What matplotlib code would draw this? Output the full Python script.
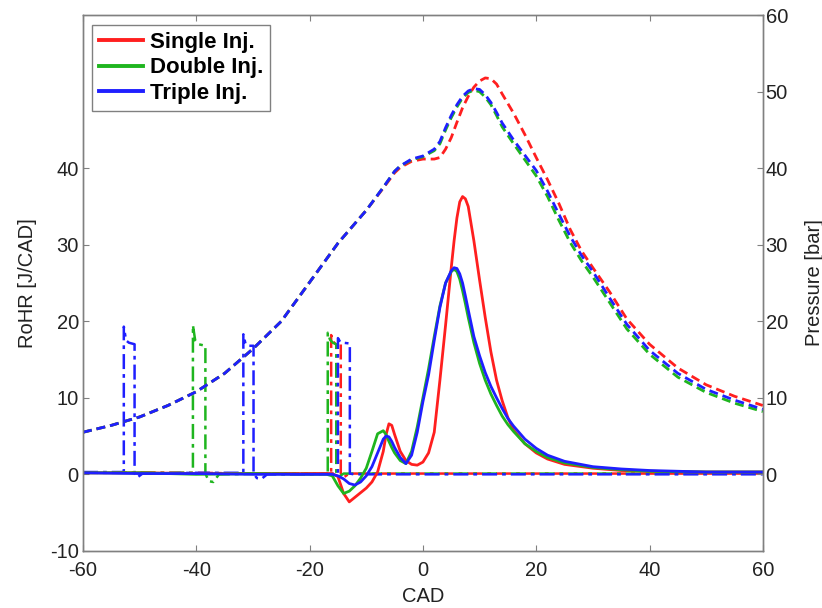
import matplotlib
matplotlib.use("Agg")
import matplotlib.pyplot as plt

plt.rcParams['font.family'] = ['Liberation Sans', 'DejaVu Sans']
plt.rcParams['font.size'] = 14
plt.rcParams['axes.unicode_minus'] = False

# colours of the three strategies
RED = '#ff1f1f'
GREEN = '#1fb51f'
BLUE = '#1f1fff'

labels = ['Single Inj.', 'Double Inj.', 'Triple Inj.']

# rate of heat release [J/CAD]
rohr_cad = [-60, -50, -40, -30, -20, -17, -16, -15, -14, -13, -12, -11, -10, -9, -8,
            -7, -6.5, -6, -5.5, -5, -4, -3, -2, -1, 0, 1, 2, 3, 4, 5, 5.5, 6, 6.5, 7, 7.5, 8, 9, 10, 11, 12,
            13, 14, 15, 16, 18, 20, 22, 25, 30, 35, 40, 50, 60]
rohr_single = [0.2, 0.2, 0.1, 0.1, 0.1, 0.1, 0.1, -0.3, -2.5, -3.6, -3.0, -2.4, -1.8, -1.0, 0.3,
               3.0, 5.2, 6.6, 6.4, 5.2, 3.0, 1.8, 1.3, 1.2, 1.6, 2.8, 5.5, 12.3, 19.5, 27.0, 30.5, 33.5, 35.6, 36.3, 36.0, 35.0, 30.5, 25.4, 20.5, 16.0,
               12.3, 9.6, 7.4, 5.8, 4.0, 2.8, 2.0, 1.3, 0.8, 0.5, 0.4, 0.3, 0.3]
rohr_double = [0.2, 0.2, 0.0, 0.1, 0.0, 0.0, -0.2, -1.5, -2.5, -2.2, -1.5, -0.5, 0.8, 3.0, 5.3,
               5.7, 5.2, 4.3, 3.5, 2.8, 1.8, 1.4, 3.0, 6.2, 10.0, 13.8, 18.0, 22.0, 25.0, 26.5, 26.8, 26.5, 25.5, 24.0, 22.3, 20.5, 17.2, 14.5, 12.3, 10.5,
               9.0, 7.6, 6.5, 5.6, 4.0, 3.0, 2.2, 1.5, 0.9, 0.6, 0.4, 0.3, 0.3]
rohr_triple = [0.2, 0.1, 0.1, 0.0, 0.0, 0.0, 0.0, -0.2, -0.6, -1.2, -1.4, -1.0, -0.2, 1.0, 2.8,
               4.6, 5.0, 4.9, 4.3, 3.5, 2.2, 1.4, 2.5, 5.5, 9.5, 13.0, 17.5, 21.8, 25.0, 26.6, 27.0, 26.9, 26.2, 25.0, 23.3, 21.5, 18.0, 15.5, 13.3, 11.5,
               10.0, 8.6, 7.3, 6.3, 4.6, 3.4, 2.5, 1.7, 1.0, 0.7, 0.5, 0.3, 0.3]

# cylinder pressure [bar]
p_cad = [-60, -55, -50, -45, -40, -35, -30, -25, -20, -15, -10, -7, -5, -4, -2, 0, 2, 3, 4,
         5, 6, 7, 8, 9, 10, 11, 12, 13, 14, 16, 18, 20, 22, 24, 26, 28, 30, 33, 36, 40, 45, 50, 55, 60]
p_single = [5.5, 6.4, 7.5, 9.0, 10.8, 13.2, 16.4, 20.0, 25.1, 30.2, 34.5, 37.4, 39.4, 40.1, 40.9, 41.2, 41.2, 41.4, 42.5,
            44.0, 46.0, 47.9, 49.4, 50.6, 51.4, 51.8, 51.7, 51.0, 49.7, 47.2, 44.4, 41.4, 38.5, 35.4, 32.0, 29.2, 27.0, 23.8, 20.3, 17.0, 13.9, 11.7, 10.2, 9.0]
p_double = [5.5, 6.4, 7.5, 9.0, 10.8, 13.2, 16.4, 20.0, 25.1, 30.2, 34.5, 37.5, 39.6, 40.3, 41.1, 41.5, 42.3, 43.2, 45.0,
            46.6, 48.0, 49.2, 49.9, 50.2, 50.0, 49.3, 48.3, 46.9, 45.4, 43.2, 41.1, 39.0, 36.3, 33.2, 30.3, 27.9, 25.8, 22.4, 19.0, 15.7, 12.7, 10.7, 9.3, 8.2]
p_triple = [5.5, 6.4, 7.5, 9.0, 10.8, 13.2, 16.4, 20.0, 25.1, 30.2, 34.5, 37.5, 39.6, 40.3, 41.2, 41.6, 42.5, 43.5, 45.3,
            46.9, 48.3, 49.4, 50.1, 50.4, 50.3, 49.6, 48.6, 47.3, 45.9, 43.7, 41.7, 39.7, 37.0, 34.0, 31.1, 28.6, 26.5, 23.0, 19.6, 16.2, 13.2, 11.1, 9.7, 8.5]

# injector command signals
inj_single_cad = [-60, -40, -30, -16.2, -16.2, -15.9, -15.4, -14.5, -14.5, -14.0, -13.0, 0, 30, 60]
inj_single_val = [0.2, 0.2, 0.1, 0.1, 18.2, 17.4, 17.0, 17.0, 0.1, -0.4, 0.1, 0.1, 0.1, 0.1]

inj_double_cad = [-60, -41, -40.6, -40.6, -40.2, -39.6, -38.4, -38.4, -37.8, -37.0, -36.0, -25, -16.8,
                  -16.8, -16.4, -15.9, -15.3, -15.3, -14.8, -14.0, 0, 30, 60]
inj_double_val = [0.2, 0.2, 0.2, 19.5, 17.5, 17.0, 16.8, 0.1, -0.9, -1.0, 0.0, 0.1, 0.1,
                  18.5, 17.6, 17.2, 17.0, 0.1, -0.3, 0.1, 0.1, 0.1, 0.1]

inj_triple_cad = [-60, -53, -52.8, -52.8, -52.4, -51.9, -50.9, -50.9, -50.4, -49.5, -40, -31.7,
                  -31.7, -31.3, -30.8, -29.9, -29.9, -29.3, -28.5, -27.5, -20, -15.0,
                  -15.0, -14.6, -14.1, -12.9, -12.9, -12.2, 0, 30, 60]
inj_triple_val = [0.3, 0.3, 0.3, 19.3, 17.5, 17.2, 17.0, 0.1, -0.4, 0.1, 0.2, 0.2,
                  18.3, 17.0, 16.8, 16.8, 0.1, -0.5, -0.6, 0.0, 0.0, 0.1,
                  17.8, 17.3, 17.2, 17.1, 0.1, 0.0, 0.0, 0.0, 0.0]

fig = plt.figure(figsize=(8.22, 6.08), dpi=100)
ax = fig.add_axes([0.101, 0.094, 0.827, 0.881])
ax2 = ax.twinx()

colors = [RED, GREEN, BLUE]

# injection signals (dash-dot)
for cad, val, c in zip([inj_single_cad, inj_double_cad, inj_triple_cad],
                       [inj_single_val, inj_double_val, inj_triple_val], colors):
    ax.plot(cad, val, color=c, lw=1.8, ls=(0, (6, 2, 1.5, 2)))

# pressure (dashed, right axis)
for val, c in zip([p_single, p_double, p_triple], colors):
    ax2.plot(p_cad, val, color=c, lw=2.0, ls=(0, (3.2, 1.8)))

# heat release (solid)
handles = []
for val, c, lab in zip([rohr_single, rohr_double, rohr_triple], colors, labels):
    h, = ax.plot(rohr_cad, val, color=c, lw=2.0, label=lab)
    handles.append(h)

frame_col = '#808080'
txt_col = '#222222'

for a in (ax, ax2):
    a.set_xlim(-60, 60)
    a.set_ylim(-10, 60)
    for s in a.spines.values():
        s.set_color(frame_col)
        s.set_linewidth(1.0)

ax.set_yticks([-10, 0, 10, 20, 30, 40])
ax2.set_yticks([0, 10, 20, 30, 40, 50, 60])
ax.set_xticks([-60, -40, -20, 0, 20, 40, 60])
ax.tick_params(axis='both', direction='in', length=4, color=frame_col,
               labelcolor=txt_col, labelsize=14.5, top=True)
ax.tick_params(axis='x', pad=7)
ax.tick_params(axis='y', pad=3)
ax2.tick_params(axis='y', direction='in', length=4, color=frame_col,
                labelcolor=txt_col, labelsize=14.5, pad=2)

ax.set_xlabel('CAD', color=txt_col, fontsize=14.5, labelpad=5)
ax.set_ylabel('RoHR [J/CAD]', color=txt_col, fontsize=14.5, labelpad=9)
ax2.set_ylabel('Pressure [bar]', color=txt_col, fontsize=14.5, labelpad=12)

leg = ax.legend(handles=handles, loc='upper left', bbox_to_anchor=(0.013, 0.981),
                borderaxespad=0, prop={'weight': 'bold', 'size': 16},
                handlelength=2.0, handletextpad=0.3, labelspacing=0.2, borderpad=0.3,
                fancybox=False, framealpha=1.0, edgecolor=frame_col)
leg.get_frame().set_linewidth(1.0)
for line in leg.get_lines():
    line.set_linewidth(2.8)

fig.savefig('out.png', dpi=100)
